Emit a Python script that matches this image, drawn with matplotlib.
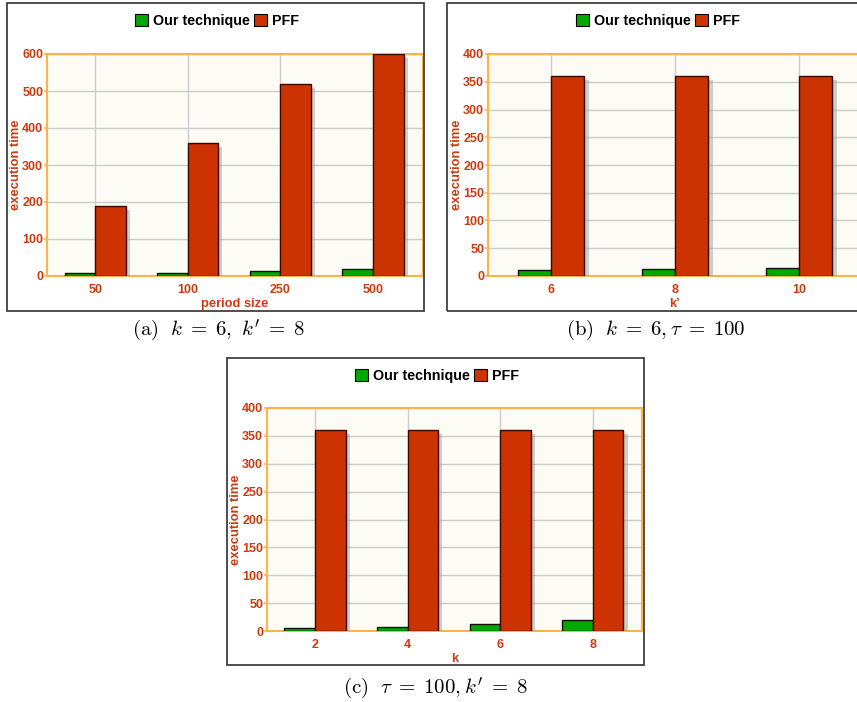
import matplotlib
matplotlib.use("Agg")
import matplotlib.pyplot as plt
import matplotlib.patheffects as pe
from matplotlib.patches import Rectangle, Patch
import numpy as np

plt.rcParams["font.family"] = ["Liberation Sans", "DejaVu Sans"]
plt.rcParams["mathtext.fontset"] = "cm"

# ---- data -------------------------------------------------------------
series_names = ["Our technique", "PFF"]

period_labels = ["50", "100", "250", "500"]
period_ours = [9, 9, 13, 18]
period_pff = [190, 360, 520, 600]

kprime_labels = ["6", "8", "10"]
kprime_ours = [10, 12, 14]
kprime_pff = [360, 360, 360]

k_labels = ["2", "4", "6", "8"]
k_ours = [6, 8, 13, 19]
k_pff = [360, 360, 360, 360]

# ---- style ------------------------------------------------------------
W, H = 857, 702
GREEN = "#00a800"
RED = "#cc3300"
TXT = "#cc3a10"
SPINE = "#ffb347"
FACE = "#fcfcf4"
GRID = "#cccccc"

fig = plt.figure(figsize=(W / 100, H / 100), dpi=100)


def px_axes(left, right, top, bottom):
    ax = fig.add_axes([left / W, 1 - bottom / H, (right - left) / W, (bottom - top) / H])
    ax._px_width = right - left
    return ax


def frame(x0, x1, y0, y1):
    fig.patches.append(Rectangle((x0 / W, 1 - y1 / H), (x1 - x0) / W, (y1 - y0) / H,
                                 transform=fig.transFigure, fill=False,
                                 edgecolor="#404040", linewidth=1.3, zorder=0))


def legend(cx, cy):
    handles = [Patch(facecolor=GREEN, edgecolor="black", linewidth=0.8),
               Patch(facecolor=RED, edgecolor="black", linewidth=0.8)]
    fig.legend(handles, series_names, loc="center", bbox_to_anchor=(cx / W, 1 - cy / H),
               ncol=2, frameon=False, handlelength=0.9, handleheight=0.95,
               handletextpad=0.3, columnspacing=0.35,
               prop={"weight": "bold", "size": 10.3})


def panel(ax, labels, ours, pff, width, ymax, ystep, xlim, xlabel):
    x = np.arange(len(labels))
    ax.set_facecolor(FACE)
    ax.bar(x - width / 2, ours, width, color=GREEN, edgecolor="#101010",
           linewidth=1.0, zorder=3)
    ax.bar(x + width / 2, pff, width, color=RED, edgecolor="#3a0800",
           linewidth=1.0, zorder=3,
           path_effects=[pe.SimplePatchShadow(offset=(3, -3), shadow_rgbFace="#a0a0a0",
                                              alpha=0.5), pe.Normal()])
    ax.set_xlim(*xlim)
    ax.set_ylim(0, ymax)
    ax.set_yticks(np.arange(0, ymax + 1, ystep))
    ax.set_xticks(x)
    ax.set_xticklabels(labels)
    ax.grid(True, color=GRID, linewidth=1.0, zorder=0)
    ax.set_axisbelow(True)
    for s in ax.spines.values():
        s.set_color(SPINE)
        s.set_linewidth(1.5)
    ax.tick_params(axis="y", colors=SPINE, labelcolor=TXT, length=2.2, width=1.2,
                   labelsize=9, pad=0.5)
    ax.tick_params(axis="x", length=0, labelcolor=TXT, labelsize=9, pad=6)
    for t in ax.get_xticklabels() + ax.get_yticklabels():
        t.set_fontweight("bold")
    ax.set_ylabel("execution time", color=TXT, fontsize=9.4, fontweight="bold")
    ax.yaxis.set_label_coords(-25 / ax._px_width, 0.5)
    ax.set_xlabel(xlabel, color=TXT, fontsize=9.3, fontweight="bold", labelpad=1)


CAP = 15

# (a) period size
frame(7, 424, 3, 311)
ax_a = px_axes(47, 423, 54, 276)
panel(ax_a, period_labels, period_ours, period_pff, 0.33, 600, 100, (-0.52, 3.54), "period size")
legend(217, 21)
fig.text(219 / W, 1 - 330 / H, r"$\mathrm{(a)}\ \ k\;=\;6,\ k^{\prime}\;=\;8$",
         ha="center", va="center", fontsize=CAP)

# (b) k'
frame(447, 870, 3, 311)
ax_b = px_axes(488, 862, 54, 276)
panel(ax_b, kprime_labels, kprime_ours, kprime_pff, 0.27, 400, 50, (-0.508, 2.508), "k\u2019")
legend(658, 21)
fig.text(656 / W, 1 - 330 / H, r"$\mathrm{(b)}\ \ k\;=\;6,\tau\;=\;100$",
         ha="center", va="center", fontsize=CAP)

# (c) k
frame(227, 644, 358, 665)
ax_c = px_axes(267, 642, 408, 631)
panel(ax_c, k_labels, k_ours, k_pff, 0.33, 400, 50, (-0.518, 3.53), "k")
legend(437, 376)
fig.text(435 / W, 1 - 688 / H, r"$\mathrm{(c)}\ \ \tau\;=\;100,k^{\prime}\;=\;8$",
         ha="center", va="center", fontsize=CAP)

fig.savefig("out.png", dpi=100)
